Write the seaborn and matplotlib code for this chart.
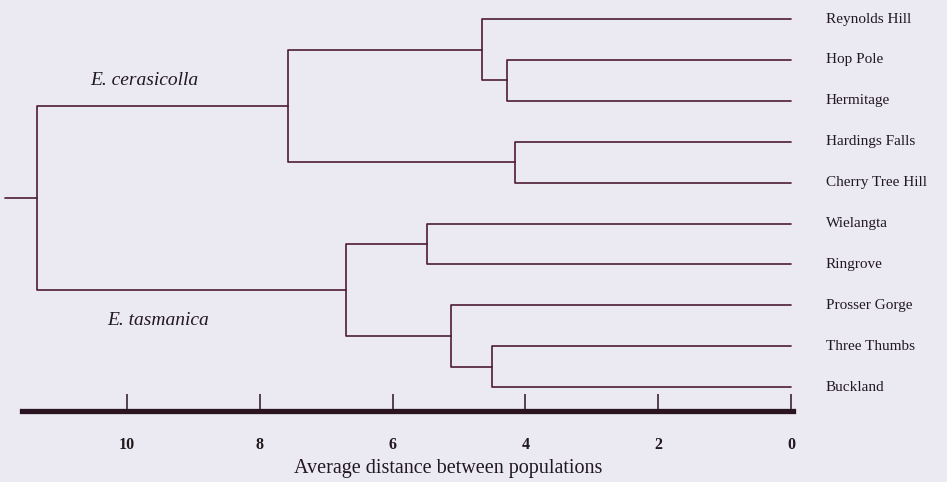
import seaborn as sns
import matplotlib.pyplot as plt
import pandas as pd

# Datos del dendrograma (hojas en orden de dibujo)
leaves = ['Reynolds Hill', 'Hop Pole', 'Hermitage', 'Hardings Falls', 'Cherry Tree Hill',
          'Wielangta', 'Ringrove', 'Prosser Gorge', 'Three Thumbs', 'Buckland']
# uniones: hijo izquierdo, hijo derecho, distancia (nodos nuevos desde 10)
merge_left = [1, 3, 8, 0, 5, 7, 13, 14, 16]
merge_right = [2, 4, 9, 10, 6, 12, 11, 15, 17]
merge_height = [4.28, 4.16, 4.50, 4.65, 5.48, 5.12, 7.58, 6.70, 11.36]
root_stub = 11.84
species = ['E. cerasicolla', 'E. tasmanica']
species_x = [10.56, 10.30]
species_y = [1.50, 7.38]
ticks = [10, 8, 6, 4, 2, 0]
axis_start = 11.58

bg = '#ebeaf2'
ink = '#4d1c32'
txt = '#22181f'

sns.set_theme(style="white", rc={'axes.facecolor': bg, 'figure.facecolor': bg})
plt.rcParams['font.family'] = ['Liberation Serif', 'DejaVu Serif']

# posiciones de los nodos
node_y = {i: float(i) for i in range(len(leaves))}
node_h = {i: 0.0 for i in range(len(leaves))}
rows = []
for k, (a, b, h) in enumerate(zip(merge_left, merge_right, merge_height)):
    nid = len(leaves) + k
    node_y[nid] = (node_y[a] + node_y[b]) / 2
    node_h[nid] = h
    for x, y in [(node_h[a], node_y[a]), (h, node_y[a]), (h, node_y[b]), (node_h[b], node_y[b])]:
        rows.append({'seg': k, 'x': x, 'y': y})
root = len(leaves) + len(merge_height) - 1
rows.append({'seg': 99, 'x': node_h[root], 'y': node_y[root]})
rows.append({'seg': 99, 'x': root_stub, 'y': node_y[root]})
segs = pd.DataFrame(rows)

fig = plt.figure(figsize=(9.47, 4.82), dpi=100)
ax = fig.add_axes([0, 1 - 411 / 482, 1, 411 / 482])
sns.lineplot(data=segs, x='x', y='y', units='seg', estimator=None, sort=False,
             color=ink, linewidth=1.2, legend=False, ax=ax)

ax.set_xlim(791 / 66.4, -156 / 66.4)
ax.set_ylim((411 - 19) / 40.9, -19 / 40.9)

for i, name in enumerate(leaves):
    ax.text(-0.52, i, name, fontsize=11, color=txt, va='center', ha='left')
for s, x, y in zip(species, species_x, species_y):
    ax.text(x, y, s, fontsize=14, style='italic', color=txt, va='center', ha='left')

# eje inferior
for side in ['top', 'left', 'right']:
    ax.spines[side].set_visible(False)
ax.spines['bottom'].set_color('#2a1420')
ax.spines['bottom'].set_linewidth(3.8)
ax.spines['bottom'].set_bounds(axis_start, -0.03)
ax.set_yticks([])
ax.set_xticks(ticks)
ax.set_xticklabels([str(t) for t in ticks], fontweight='bold', fontsize=11.5, color=txt)
ax.tick_params(axis='x', direction='in', length=12, width=1.1, color='#2a1420', pad=19, bottom=True)
ax.set_xlabel('Average distance between populations', fontsize=14.5, color=txt)
ax.xaxis.set_label_coords(448 / 947, -57 / 411)
ax.xaxis.label.set_va('center')
ax.set_ylabel('')

fig.savefig('out.png', dpi=100, facecolor=bg)
